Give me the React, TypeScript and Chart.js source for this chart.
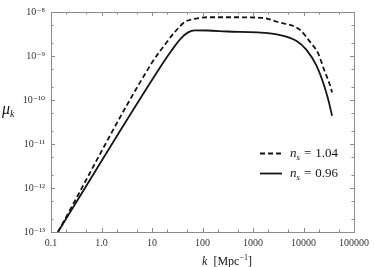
import React, { useEffect, useRef } from "react";
import { Chart, registerables } from "chart.js";
Chart.register(...registerables);

// n_s = 0.96 (solid)
const kSolid = [0.137, 13.4, 24.2, 37.8, 51.9, 71, 127, 313, 1200, 2960, 7300, 11450, 17960, 24560, 30760, 36800];
const muSolid = [1e-13, 4.8e-10, 1.31e-9, 2.54e-9, 3.44e-9, 3.82e-9, 3.8e-9, 3.6e-9, 3.45e-9, 3.1e-9, 2.2e-9, 1.38e-9, 6.15e-10, 2.47e-10, 1.04e-10, 4.4e-11];
// n_s = 1.04 (dashed)
const kDashed = [0.137, 9.8, 18.4, 28.9, 45.3, 71, 127, 313, 1050, 1890, 2960, 8350, 13100, 19630, 25700, 32200, 36800];
const muDashed = [1e-13, 6.8e-10, 1.87e-9, 3.6e-9, 6.0e-9, 7.0e-9, 7.6e-9, 7.6e-9, 7.5e-9, 7.1e-9, 6.0e-9, 4.0e-9, 2.18e-9, 1.13e-9, 4.8e-10, 2.47e-10, 1.49e-10];

const seriesValues = ["1.04", "0.96"];
const xTickValues = [0.1, 1, 10, 100, 1000, 10000, 100000];
const xTickLabels = ["0.1", "1.0", "10", "100", "1000", "10000", "100000"];
const yTickValues = [1e-13, 1e-12, 1e-11, 1e-10, 1e-9, 1e-8];
const yTickLabels = ["10⁻¹³", "10⁻¹²", "10⁻¹¹", "10⁻¹⁰", "10⁻⁹", "10⁻⁸"];

const SERIF = "'Liberation Serif', 'DejaVu Serif', serif";
const FRAME = "#8c8c8c";
const INK = "#151515";

type Seg = { t: string; size: number; italic?: boolean; dy?: number; gap?: number };

function drawRich(ctx: CanvasRenderingContext2D, segs: Seg[], x: number, y: number, align: "left" | "center") {
  const fontOf = (s: Seg) => `${s.italic ? "italic " : ""}${s.size}px ${SERIF}`;
  let total = 0;
  for (const s of segs) {
    ctx.font = fontOf(s);
    total += ctx.measureText(s.t).width + (s.gap || 0);
  }
  let cx = align === "center" ? x - total / 2 : x;
  ctx.textBaseline = "alphabetic";
  ctx.textAlign = "left";
  for (const s of segs) {
    ctx.font = fontOf(s);
    ctx.fillText(s.t, cx, y + (s.dy || 0));
    cx += ctx.measureText(s.t).width + (s.gap || 0);
  }
}

const decorPlugin = {
  id: "decor",
  beforeDatasetsDraw(chart: any) {
    const ctx: CanvasRenderingContext2D = chart.ctx;
    const { left, right, top, bottom } = chart.chartArea;
    const xs = chart.scales.x;
    const ys = chart.scales.y;
    ctx.save();
    ctx.strokeStyle = FRAME;
    ctx.lineWidth = 1;
    ctx.strokeRect(Math.round(left) + 0.5, Math.round(top) + 0.5, Math.round(right - left), Math.round(bottom - top));
    ctx.beginPath();
    const mults = [1, 2, 5];
    for (let e = -1; e <= 5; e++) {
      for (const m of mults) {
        const v = m * Math.pow(10, e);
        if (v > 100000 * 1.0001) continue;
        const px = Math.round(xs.getPixelForValue(v)) + 0.5;
        const len = m === 1 ? 4 : 2.5;
        ctx.moveTo(px, bottom);
        ctx.lineTo(px, bottom - len);
        ctx.moveTo(px, top);
        ctx.lineTo(px, top + len);
      }
    }
    for (let e = -13; e <= -8; e++) {
      for (const m of mults) {
        const v = m * Math.pow(10, e);
        if (v > 1e-8 * 1.0001) continue;
        const py = Math.round(ys.getPixelForValue(v)) + 0.5;
        const len = m === 1 ? 4 : 2.5;
        ctx.moveTo(left, py);
        ctx.lineTo(left + len, py);
        ctx.moveTo(right, py);
        ctx.lineTo(right - len, py);
      }
    }
    ctx.stroke();
    ctx.restore();
  },
  afterDraw(chart: any) {
    const ctx: CanvasRenderingContext2D = chart.ctx;
    const { top, bottom } = chart.chartArea;
    ctx.save();
    ctx.fillStyle = INK;
    // y title: mu_k
    drawRich(ctx, [
      { t: "μ", size: 16, italic: true },
      { t: "k", size: 10, italic: true, dy: 3 },
    ], 2, (top + bottom) / 2 - 8, "left");
    // x title: k [Mpc^-1]
    drawRich(ctx, [
      { t: "k", size: 12, italic: true, gap: 6 },
      { t: "[Mpc", size: 12 },
      { t: "−1", size: 8, dy: -5 },
      { t: "]", size: 12 },
    ], 227, 265, "center");
    // legend
    const ds = chart.data.datasets;
    const rows = [153, 173];
    ds.forEach((d: any, i: number) => {
      const y = rows[i];
      ctx.strokeStyle = d.borderColor;
      ctx.lineWidth = d.borderWidth;
      ctx.setLineDash(d.borderDash || []);
      ctx.beginPath();
      ctx.moveTo(260, y + 0.5);
      ctx.lineTo(282, y + 0.5);
      ctx.stroke();
      ctx.setLineDash([]);
      drawRich(ctx, [
        { t: "n", size: 13, italic: true },
        { t: "s", size: 9, italic: true, dy: 2.5, gap: 4 },
        { t: "=", size: 13, gap: 4 },
        { t: seriesValues[i], size: 13 },
      ], 290, y + 4, "left");
    });
    ctx.restore();
  },
};

export default function App() {
  const ref = useRef<HTMLCanvasElement | null>(null);
  useEffect(() => {
    if (!ref.current) return;
    const chart = new Chart(ref.current, {
      type: "line",
      data: {
        datasets: [
          {
            label: "n_s = " + seriesValues[0],
            data: kDashed.map((k, i) => ({ x: k, y: muDashed[i] })),
            borderColor: INK,
            borderWidth: 1.8,
            borderDash: [5, 3],
            pointRadius: 0,
            fill: false,
            cubicInterpolationMode: "monotone",
          },
          {
            label: "n_s = " + seriesValues[1],
            data: kSolid.map((k, i) => ({ x: k, y: muSolid[i] })),
            borderColor: INK,
            borderWidth: 1.8,
            pointRadius: 0,
            fill: false,
            cubicInterpolationMode: "monotone",
          },
        ],
      },
      options: {
        animation: false,
        responsive: false,
        devicePixelRatio: 1,
        layout: { padding: { left: 0, right: 16, top: 5, bottom: 0 } },
        plugins: { legend: { display: false }, tooltip: { enabled: false } },
        scales: {
          x: {
            type: "logarithmic",
            min: 0.1,
            max: 100000,
            afterBuildTicks: (s: any) => {
              s.ticks = xTickValues.map((v) => ({ value: v }));
            },
            afterFit: (s: any) => {
              s.height = 35;
            },
            ticks: {
              autoSkip: false,
              maxRotation: 0,
              padding: 5,
              color: "#333",
              font: { family: SERIF, size: 10 },
              callback: (v: any) => {
                const i = xTickValues.findIndex((t) => Math.abs(t - v) / t < 1e-6);
                return i >= 0 ? xTickLabels[i] : "";
              },
            },
            grid: { display: false, drawTicks: false },
            border: { display: false },
          },
          y: {
            type: "logarithmic",
            min: 1e-13,
            max: 1e-8,
            afterBuildTicks: (s: any) => {
              s.ticks = yTickValues.map((v) => ({ value: v }));
            },
            afterFit: (s: any) => {
              s.width = 51;
            },
            ticks: {
              autoSkip: false,
              padding: 6,
              color: "#333",
              font: { family: SERIF, size: 10 },
              callback: (v: any) => {
                const i = yTickValues.findIndex((t) => Math.abs(t - v) / t < 1e-6);
                return i >= 0 ? yTickLabels[i] : "";
              },
            },
            grid: { display: false, drawTicks: false },
            border: { display: false },
          },
        },
      },
      plugins: [decorPlugin],
    } as any);
    return () => chart.destroy();
  }, []);
  return (
    <div style={{ position: "absolute", left: 0, top: 0, width: 374, height: 267, background: "#fff" }}>
      <canvas ref={ref} width={374} height={267} />
    </div>
  );
}
